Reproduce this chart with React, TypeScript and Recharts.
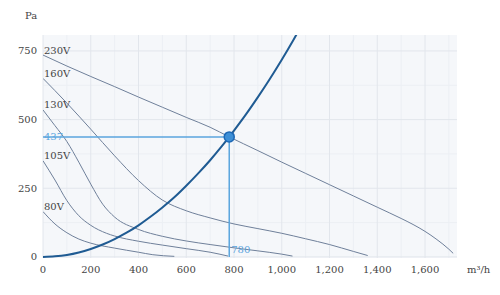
import {
  ComposedChart,
  Line,
  XAxis,
  YAxis,
  CartesianGrid,
  ReferenceLine,
  ReferenceDot,
} from "recharts";

// fan curves, [flow m³/h, pressure Pa]
const curve230 = [
  [0, 735], [100, 695], [200, 657], [300, 620], [400, 582], [500, 545],
  [600, 508], [700, 472], [780, 437], [900, 387], [1000, 345], [1100, 304],
  [1200, 263], [1300, 222], [1400, 181], [1500, 140], [1550, 118], [1600, 93],
  [1650, 63], [1700, 28], [1718, 13],
];
const curve160 = [
  [0, 650], [100, 560], [200, 465], [300, 368], [400, 278], [500, 207],
  [600, 168], [700, 142], [800, 120], [900, 103], [1000, 86], [1100, 66],
  [1200, 45], [1300, 20], [1360, 5],
];
const curve130 = [
  [0, 535], [50, 478], [100, 420], [150, 345], [200, 265], [250, 192],
  [300, 145], [400, 100], [500, 75], [600, 58], [700, 45], [800, 33],
  [900, 22], [1000, 10], [1045, 3],
];
const curve105 = [
  [0, 350], [50, 280], [100, 205], [150, 150], [200, 115], [266, 86],
  [300, 76], [400, 57], [500, 43], [600, 30], [700, 17], [775, 3],
];
const curve80 = [
  [0, 165], [50, 120], [100, 88], [150, 65], [200, 50], [300, 32],
  [400, 17], [460, 8], [550, 2],
];
// system curve
const systemCurve = [
  [0, 0], [50, 2], [100, 7], [150, 16], [200, 29], [250, 45], [300, 65],
  [350, 88], [400, 115], [450, 146], [500, 180], [550, 217], [600, 259],
  [650, 304], [700, 352], [750, 404], [780, 437], [800, 460], [850, 519],
  [900, 582], [950, 648], [1000, 718], [1050, 792], [1080, 838],
];

const fanCurves = [
  { name: "230V", points: curve230 },
  { name: "160V", points: curve160 },
  { name: "130V", points: curve130 },
  { name: "105V", points: curve105 },
  { name: "80V", points: curve80 },
];

const opFlow = 780;
const opPressure = 437;

const xTicks = [0, 200, 400, 600, 800, 1000, 1200, 1400, 1600];
const xMinor = [100, 300, 500, 700, 900, 1100, 1300, 1500, 1700];
const yTicks = [0, 250, 500, 750];
const yMinor = [125, 375, 625];

const toRows = (pts: number[][]) => pts.map(([q, p]) => ({ q, p }));

const FONT = "DejaVu Serif";
const TEXT = "#444";
const FAN = "#6f809a";
const SYS = "#1f5b93";
const OP = "#5aa5de";

function TextAt(props: any) {
  const { viewBox, text, dx = 0, dy = 0, fill = TEXT } = props;
  if (!viewBox) return null;
  return (
    <text
      x={viewBox.x + dx}
      y={viewBox.y + dy}
      fill={fill}
      fontSize={10}
      fontFamily={FONT}
      dominantBaseline="central"
    >
      {text}
    </text>
  );
}

export default function App() {
  return (
    <div
      style={{
        position: "absolute",
        left: 0,
        top: 0,
        width: 500,
        height: 295,
        fontFamily: FONT,
        background: "#fff",
      }}
    >
      <div style={{ position: "absolute", left: 25, top: 10, fontSize: 10, color: TEXT }}>Pa</div>
      <div style={{ position: "absolute", left: 467, top: 264, fontSize: 10, color: TEXT }}>m³/h</div>
      <ComposedChart width={500} height={295} margin={{ top: 35, right: 43, bottom: 0, left: 0 }}>
        <CartesianGrid
          fill="#f5f7fa"
          stroke="#eceff4"
          verticalValues={xMinor}
          horizontalValues={yMinor}
        />
        <CartesianGrid stroke="#e2e6ec" verticalValues={xTicks} horizontalValues={yTicks} />
        <XAxis
          type="number"
          dataKey="q"
          domain={[0, 1734]}
          ticks={xTicks}
          tickFormatter={(v) => v.toLocaleString("en-US")}
          axisLine={false}
          tickLine={false}
          tickSize={0}
          tickMargin={8}
          height={37}
          tick={{ fill: TEXT, fontSize: 10, fontFamily: FONT }}
          allowDataOverflow
        />
        <YAxis
          type="number"
          dataKey="p"
          domain={[-4, 808]}
          ticks={yTicks}
          axisLine={false}
          tickLine={false}
          tickSize={0}
          tickMargin={6}
          width={43}
          tick={{ fill: TEXT, fontSize: 10, fontFamily: FONT }}
          allowDataOverflow
        />
        {fanCurves.map((c) => (
          <Line
            key={c.name}
            data={toRows(c.points)}
            dataKey="p"
            type="monotone"
            stroke={FAN}
            strokeWidth={1}
            dot={false}
            isAnimationActive={false}
          />
        ))}
        <Line
          data={toRows(systemCurve)}
          dataKey="p"
          type="monotone"
          stroke={SYS}
          strokeWidth={2}
          dot={false}
          isAnimationActive={false}
        />
        <ReferenceLine
          segment={[{ x: 0, y: opPressure }, { x: opFlow, y: opPressure }]}
          stroke={OP}
          strokeWidth={1.5}
        />
        <ReferenceLine
          segment={[{ x: opFlow, y: 0 }, { x: opFlow, y: opPressure }]}
          stroke={OP}
          strokeWidth={1.5}
        />
        <ReferenceDot x={opFlow} y={opPressure} r={5} fill="#3d8fd6" stroke="#1d68b5" strokeWidth={1.5} />
        {fanCurves.map((c) => (
          <ReferenceDot
            key={"l" + c.name}
            x={0}
            y={c.points[0][1]}
            r={0}
            fill="none"
            stroke="none"
            label={<TextAt text={c.name} dx={1} dy={-5} />}
          />
        ))}
        <ReferenceDot
          x={0}
          y={opPressure}
          r={0}
          fill="none"
          stroke="none"
          label={<TextAt text={String(opPressure)} dx={1} dy={0} fill={OP} />}
        />
        <ReferenceDot
          x={opFlow}
          y={0}
          r={0}
          fill="none"
          stroke="none"
          label={<TextAt text={String(opFlow)} dx={2} dy={-7} fill={OP} />}
        />
      </ComposedChart>
    </div>
  );
}
